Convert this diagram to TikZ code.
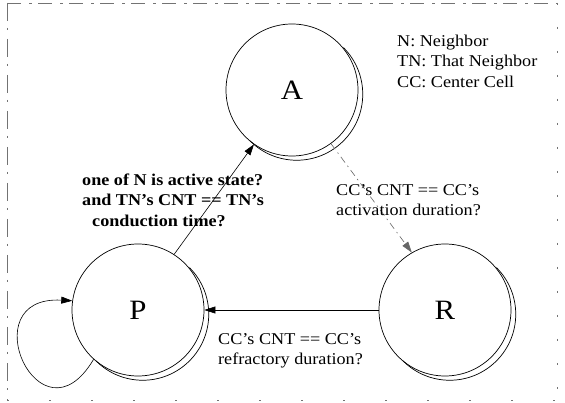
\documentclass[tikz,border=0pt]{standalone}
\usepackage{fontspec}
\setmainfont{Liberation Serif}[FakeStretch=1.1]
\usetikzlibrary{arrows.meta}
\tikzset{
  statenode/.style={circle, draw, line width=0.7pt, minimum size=132pt, inner sep=0pt,
    font=\fontsize{28}{32}\selectfont},
  shadowarc/.style={line width=0.7pt},
  arr/.style={line width=0.6pt, -{Triangle[length=11pt,width=7pt]}},
  dasharr/.style={arr, draw=black!60, dash pattern=on 7pt off 4pt on 1.5pt off 4pt},
  lbl/.style={align=left, inner sep=0pt, anchor=west, font=\fontsize{16.5}{20.5}\selectfont},
  frame/.style={draw=black!55, line width=0.6pt}
}
\begin{document}
\begin{tikzpicture}[x=1pt,y=-1pt]
\useasboundingbox[fill=white] (0,0) rectangle (565,403);
% scan frame
\draw[frame, dash pattern=on 14pt off 8pt on 3pt off 6pt] (7,3) -- (557,3);
\draw[frame, dash pattern=on 18pt off 7pt on 2pt off 9pt] (7,3) -- (7,400);
\draw[frame, dash pattern=on 2pt off 22pt] (557,3) -- (557,400);
\draw[frame, dash pattern=on 2pt off 40pt] (7,400) -- (557,400);
% states
\node[statenode] (A) at (292,90) {A};
\node[statenode] (P) at (138,310) {P};
\node[statenode] (R) at (445,310) {R};
% shadow arcs
\foreach \n in {A,P,R}{
  \draw[shadowarc] ([shift={(4.5,4.5)}]\n.45) arc[start angle=-45, end angle=135, radius=66];
}
% transitions
\draw[arr] (P.57) -- (A.235);
\draw[dasharr] (A.-54) -- (R.120);
\draw[arr] (R.west) -- (P.east);
\draw[arr] (P.228) .. controls (40,450) and (-30,295) .. (P.172);
% labels
\node[lbl, font=\fontsize{16.5}{20.5}\selectfont\bfseries] (l1) at (82,200)
  {one of N is active state?\\and TN's CNT == TN's\\\hspace*{10pt}conduction time?};
\node[lbl] (l2) at (336,200) {CC's CNT == CC's\\activation duration?};
\node[lbl] (l3) at (218,351) {CC's CNT == CC's\\refractory duration?};
\node[lbl] (leg) at (397,61) {N: Neighbor\\TN: That Neighbor\\CC: Center Cell};
\end{tikzpicture}
\end{document}
